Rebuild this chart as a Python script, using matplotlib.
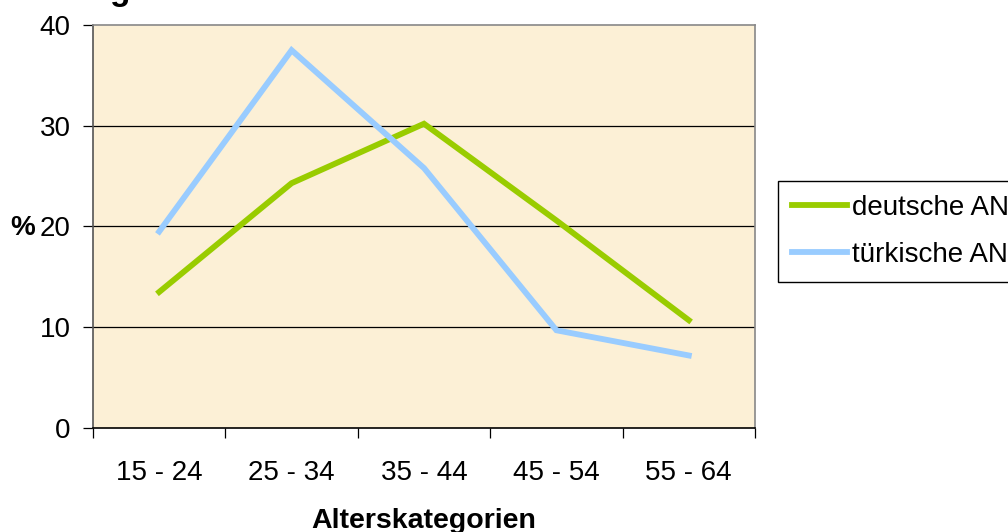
import matplotlib
matplotlib.use("Agg")
import matplotlib.pyplot as plt

plt.rcParams['font.family'] = ['Liberation Sans', 'DejaVu Sans']

kategorien = ["15 - 24", "25 - 34", "35 - 44", "45 - 54", "55 - 64"]
deutsche = [13.5, 24.3, 30.2, 20.6, 10.7]
tuerkische = [19.5, 37.5, 25.8, 9.7, 7.2]
serien = ["deutsche AN", "türkische AN"]

fig = plt.figure(figsize=(10.08, 5.32), dpi=100)
ax = fig.add_axes([93/1008, 1-428/532, (755-93)/1008, (428-25)/532])
ax.set_facecolor('#FCF0D6')

x = list(range(len(kategorien)))
ax.plot(x, deutsche, color='#99CC00', lw=4.2, label=serien[0], solid_joinstyle='miter')
ax.plot(x, tuerkische, color='#99CCFF', lw=4.2, label=serien[1], solid_joinstyle='miter')

ax.set_xlim(-0.5, 4.5)
ax.set_ylim(0, 40)
ax.set_yticks([0, 10, 20, 30, 40])
for yv in [10, 20, 30]:
    ax.axhline(yv, color='black', lw=0.9, zorder=1)

ax.set_xticks(x)
ax.set_xticklabels(kategorien)
ax.set_xticks([i - 0.5 for i in range(6)], minor=True)
ax.tick_params(axis='x', which='major', length=0, pad=23, labelsize=20)
ax.tick_params(axis='x', which='minor', length=7, width=0.9, direction='out')
ax.tick_params(axis='y', length=7, width=0.9, direction='out', labelsize=20, pad=9)

for s in ['top', 'right', 'left']:
    ax.spines[s].set_color('#888888')
    ax.spines[s].set_linewidth(1.2)
ax.spines['left'].set_color('#555555')
ax.spines['bottom'].set_color('black')
ax.spines['bottom'].set_linewidth(1.2)

fig.text(424/1008, 1-528/532, "Alterskategorien", ha='center', va='baseline',
         fontsize=20.5, fontweight='bold')
fig.text(23/1008, 1-228/532, "%", ha='center', va='center',
         fontsize=20, fontweight='bold')
fig.text(120/1008, 1.0, "g", ha='center', va='baseline',
         fontsize=24, fontweight='bold')

fig.legend(loc='upper left', bbox_to_anchor=(778/1008, 1-181/532),
           frameon=True, fancybox=False, edgecolor='black', framealpha=1,
           fontsize=20, handlelength=2.0, handletextpad=0.15,
           borderpad=0.5, labelspacing=0.75, borderaxespad=0)

fig.savefig("out.png", dpi=100)
